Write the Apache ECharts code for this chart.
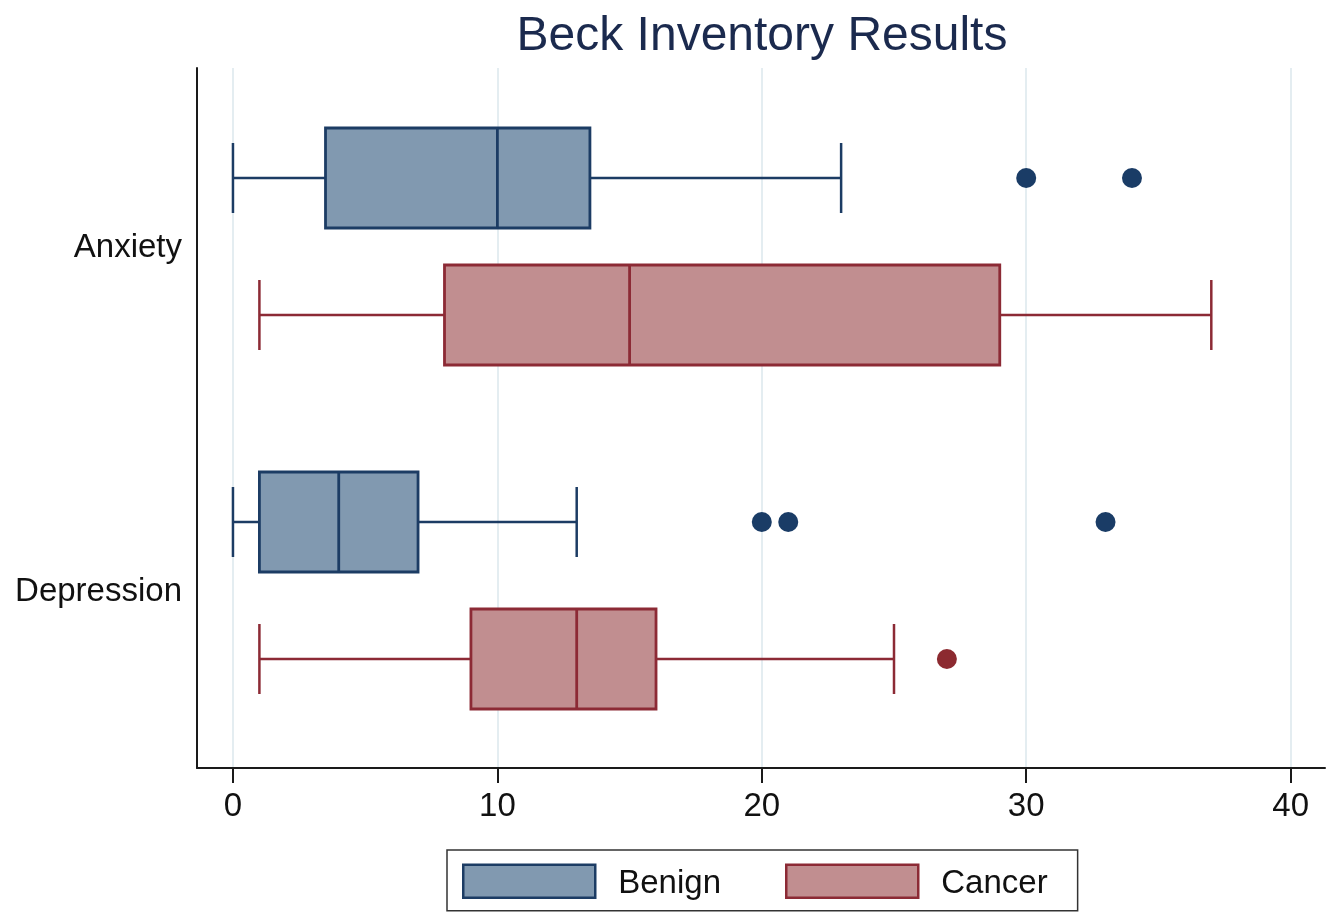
<!DOCTYPE html>
<html><head><meta charset="utf-8">
<script src="https://cdn.jsdelivr.net/npm/echarts@6/dist/echarts.min.js"></script>
<style>html,body{margin:0;padding:0;background:#fff}#c{width:1329px;height:914px}</style>
</head><body><div id="c"></div>
<script>
// ---- data ----
const categories = ['Anxiety', 'Depression'];
const groups = ['Benign', 'Cancer'];
// [min, Q1, median, Q3, max] per category
const benignBox = [[0, 3.5, 10, 13.5, 23], [0, 1, 4, 7, 13]];
const cancerBox = [[1, 8, 15, 29, 37], [1, 9, 13, 16, 25]];
// [value, category]
const benignOutliers = [[30, 'Anxiety'], [34, 'Anxiety'], [20, 'Depression'], [21, 'Depression'], [33, 'Depression']];
const cancerOutliers = [[27, 'Depression']];
const xTicks = [0, 10, 20, 30, 40];

// ---- style ----
const FONT = 'Liberation Sans, Arial, sans-serif';
const BOX_OFFSETS = { Benign: -70, Cancer: 67 };
const BOX_HEIGHT = 100, CAP_HEIGHT = 70;
const X_MIN = -1.36, X_MAX = 41.3;
const colors = {
  Benign: { fill: '#8199b0', stroke: '#1c3c64', dot: '#1a3c66' },
  Cancer: { fill: '#c18e90', stroke: '#8c2a35', dot: '#8c2a30' }
};

function makeRender(offset, fill, stroke) {
  return function (params, api) {
    const c = api.value(0);
    const pts = [1, 2, 3, 4, 5].map(d => api.coord([api.value(d), c]));
    const yc = pts[0][1] + offset;
    const hb = BOX_HEIGHT / 2, hc = CAP_HEIGHT / 2;
    const [xMin, xQ1, xMed, xQ3, xMax] = pts.map(p => p[0]);
    const line = (x1, y1, x2, y2, w) => ({ type: 'line', shape: { x1, y1, x2, y2 }, style: { stroke, lineWidth: w } });
    return {
      type: 'group', children: [
        line(xMin, yc, xQ1, yc, 2.5),
        line(xQ3, yc, xMax, yc, 2.5),
        line(xMin, yc - hc, xMin, yc + hc, 2.5),
        line(xMax, yc - hc, xMax, yc + hc, 2.5),
        { type: 'rect', shape: { x: xQ1, y: yc - hb, width: xQ3 - xQ1, height: 2 * hb }, style: { fill, stroke, lineWidth: 2.8 } },
        line(xMed, yc - hb, xMed, yc + hb, 2.8)
      ]
    };
  };
}

const boxData = { Benign: benignBox, Cancer: cancerBox };
const outData = { Benign: benignOutliers, Cancer: cancerOutliers };

const series = [];
groups.forEach(g => {
  series.push({
    name: g, type: 'custom', xAxisIndex: 1, yAxisIndex: 1,
    data: categories.map((c, i) => [c].concat(boxData[g][i])),
    encode: { y: 0, x: [1, 2, 3, 4, 5] },
    itemStyle: { color: colors[g].fill },
    renderItem: makeRender(BOX_OFFSETS[g], colors[g].fill, colors[g].stroke)
  });
});
groups.forEach(g => {
  series.push({
    name: g, type: 'scatter', xAxisIndex: 1, yAxisIndex: 1,
    data: outData[g], symbol: 'circle', symbolSize: 20,
    symbolOffset: [0, BOX_OFFSETS[g]],
    itemStyle: { color: colors[g].dot, opacity: 1 }
  });
});

const chart = echarts.init(document.getElementById('c'), null, { renderer: 'canvas' });
chart.setOption({
  animation: false,
  backgroundColor: '#ffffff',
  textStyle: { fontFamily: FONT },
  title: {
    text: 'Beck Inventory Results', left: 757, top: 8, textAlign: 'center',
    textStyle: { fontSize: 48, fontWeight: 'normal', color: '#1b2a4e', fontFamily: FONT }
  },
  legend: {
    left: 447, top: 850, orient: 'horizontal',
    padding: [13.5, 30, 10.5, 15], borderColor: '#333', borderWidth: 1.5,
    itemWidth: 132, itemHeight: 33, itemGap: 64, icon: 'rect',
    selectedMode: false,
    formatter: '{t|{name}}',
    textStyle: {
      fontSize: 33, color: '#111', fontFamily: FONT, padding: [5, 0, 0, 18],
      rich: { t: { fontSize: 33, color: '#111', fontFamily: FONT } }
    },
    data: groups.map(g => ({ name: g, itemStyle: { color: colors[g].fill, borderColor: colors[g].stroke, borderWidth: 2.5 } }))
  },
  grid: [
    { left: 197, right: 4, top: 68, bottom: 146 },
    { left: 197, right: 4, top: 76, bottom: 150 }
  ],
  xAxis: [
    {
      gridIndex: 0, type: 'value', min: X_MIN, max: X_MAX,
      axisLine: { show: true, onZero: false, lineStyle: { color: '#1a1a1a', width: 2 } },
      axisTick: { show: true, length: 15, customValues: xTicks, lineStyle: { color: '#1a1a1a', width: 2 } },
      axisLabel: { show: true, customValues: xTicks, fontSize: 33, color: '#111', margin: 22, fontFamily: FONT },
      splitLine: { show: true, lineStyle: { color: '#e4edf1', width: 2 } }
    },
    { gridIndex: 1, type: 'value', min: X_MIN, max: X_MAX, show: false }
  ],
  yAxis: [
    {
      gridIndex: 0, type: 'value',
      axisLine: { show: true, onZero: false, lineStyle: { color: '#1a1a1a', width: 2 } },
      axisTick: { show: false }, axisLabel: { show: false }, splitLine: { show: false }
    },
    {
      gridIndex: 1, type: 'category', data: categories, inverse: true,
      axisLine: { show: false }, axisTick: { show: false },
      axisLabel: { fontSize: 33, color: '#111', margin: 15, fontFamily: FONT },
      splitLine: { show: false }
    }
  ],
  series
});
</script></body></html>
